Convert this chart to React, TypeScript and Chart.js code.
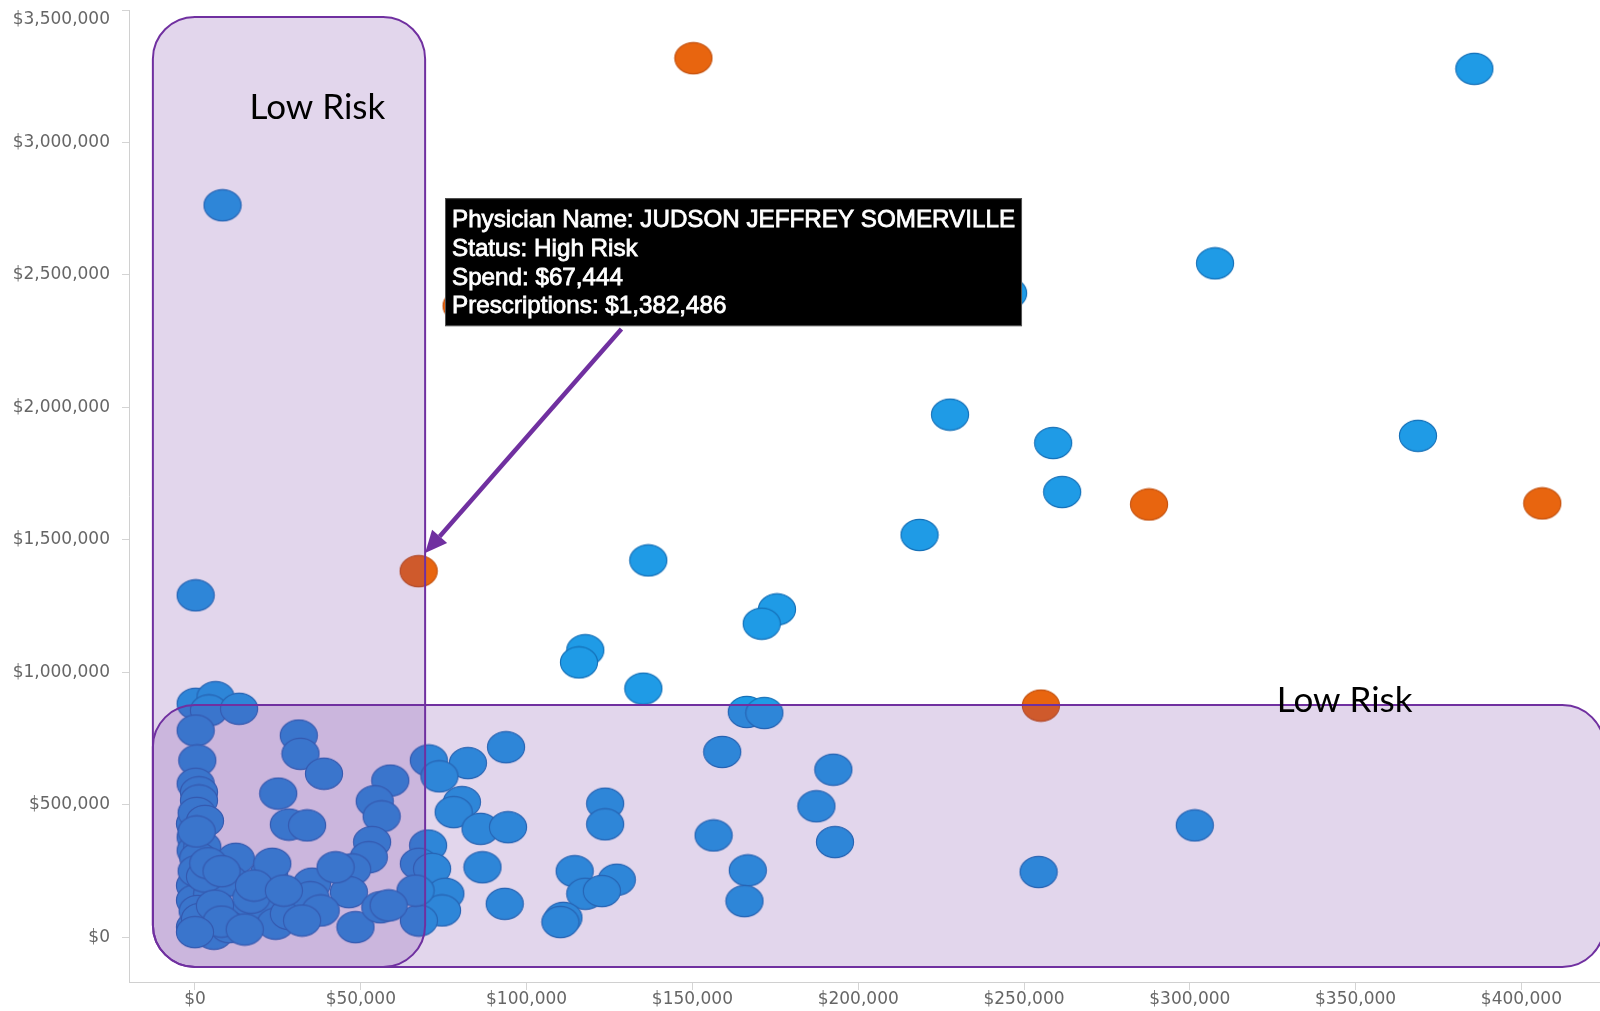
import React, { useEffect, useRef } from "react";
import { Chart, registerables } from "chart.js";

Chart.register(...registerables);

// ---------------- data (dollars) ----------------
// Low-risk physicians spread over the plot
const spreadSpend = [385800, 8300, 307600, 245200, 227700, 258800, 368800, 261500, 218500, 136700, 200, 175500, 170900, 117700, 115800, 135200, 166400, 171700];
const spreadRx = [3278000, 2763000, 2544000, 2431000, 1973000, 1866000, 1893000, 1681000, 1519000, 1423000, 1291000, 1238000, 1184000, 1084000, 1038000, 939000, 851000, 847000];

// Low-risk physicians in the low-prescription band
const bandSpend = [159000, 192500, 187400, 193000, 156400, 166700, 165700, 301500, 254400, 93800, 82300, 70500, 73700, 80500, 78000, 86100, 94400, 123700, 123700, 70300, 67500, 71500, 86700, 114500, 127200, 117700, 122700, 111100, 110200, 93400, 75500, 74500, 67500, 66500];
const bandRx = [700000, 633000, 495000, 360000, 385000, 253000, 137000, 423000, 247000, 718000, 658000, 668000, 608000, 511000, 473000, 410000, 416000, 505000, 427000, 347000, 278000, 259000, 265000, 250000, 218000, 165000, 175000, 74000, 58000, 127000, 165000, 102000, 64000, 177000];

// Low-risk physicians in the low-spend cluster
const clusterSpend = [200, 6200, 4200, 13300, 200, 700, 200, 1200, 1200, 31300, 31800, 38900, 25100, 28300, 33800, 58900, 54200, 56300, 53400, 52400, 47400, 46400, 48400, 55900, 58400, 0, 200, 200, 2200, 12300, 0, 0, 0, 5200, 10200, 12700, 22300, 23300, 20300, 21300, 24300, 28300, 35300, 34800, 37900, 32300, 5700, 10200, 500, 1000, 500, 800, 1500, 3000, 4000, 6000, 8000, 15000, 17000, 8000, 3000, 17800, 26800, 42400, 500, 0];
const clusterRx = [882000, 907000, 857000, 863000, 781000, 668000, 580000, 548000, 517000, 762000, 693000, 618000, 543000, 426000, 423000, 592000, 514000, 457000, 360000, 303000, 257000, 171000, 39000, 114000, 121000, 429000, 378000, 328000, 341000, 297000, 196000, 140000, 39000, 165000, 215000, 77000, 240000, 278000, 140000, 108000, 52000, 89000, 203000, 152000, 102000, 64000, 14000, 39000, 470000, 300000, 250000, 100000, 70000, 230000, 280000, 120000, 60000, 30000, 150000, 250000, 440000, 196000, 177000, 265000, 400000, 20000];

// High-risk physicians
const highRiskSpend = [150300, 67444, 287700, 406300, 255100, 80400];
const highRiskRx = [3318000, 1382486, 1634000, 1638000, 875000, 2383000];

const xTickValues = [0, 50000, 100000, 150000, 200000, 250000, 300000, 350000, 400000];
const yTickValues = [0, 500000, 1000000, 1500000, 2000000, 2500000, 3000000, 3500000];

const highlighted = {
  name: "JUDSON JEFFREY SOMERVILLE",
  status: "High Risk",
  spend: 67444,
  prescriptions: 1382486,
};

const zoneLabel = "Low Risk";

// ---------------- annotation layout (data units) ----------------
const zones = [
  { xMin: -12700, xMax: 69400, yMin: -111000, yMax: 3474000 },
  { xMin: -12700, xMax: 425000, yMin: -111000, yMax: 877000 },
];
const zoneLabelPos = [
  { x: 36900, y: 3090000 },
  { x: 346700, y: 851000 },
];
const tooltipAnchor = { x: 75400, y: 2790000 };
const arrowFrom = { x: 128600, y: 2296000 };
const arrowTo = { x: 69400, y: 1451000 };

const TICK_FAMILY = "'DejaVu Sans', 'Liberation Sans', Arial, sans-serif";
const TICK_SIZE = 17;
const TICK_COLOR = "#666";
const Y_TICK_LEN = 7;
const Y_TICK_PAD = 12;

const fmt = (v: number) => "$" + Math.round(v).toLocaleString("en-US");
const pairs = (xs: number[], ys: number[]) => xs.map((x, i) => ({ x, y: ys[i] }));
const topYTick = yTickValues[yTickValues.length - 1];

function makeDot(fill: string, stroke: string): HTMLCanvasElement {
  const c = document.createElement("canvas");
  c.width = 40;
  c.height = 34;
  const g = c.getContext("2d")!;
  g.beginPath();
  g.ellipse(20, 17, 18.6, 15.6, 0, 0, Math.PI * 2);
  g.fillStyle = fill;
  g.fill();
  g.lineWidth = 1.1;
  g.strokeStyle = stroke;
  g.stroke();
  return c;
}

const overlayPlugin = {
  id: "overlay",
  afterDatasetsDraw(chart: any) {
    const { ctx } = chart;
    const xs = chart.scales.x;
    const ys = chart.scales.y;
    const px = (v: number) => xs.getPixelForValue(v);
    const py = (v: number) => ys.getPixelForValue(v);
    ctx.save();
    zones.forEach((z) => {
      const l = px(z.xMin), r = px(z.xMax), t = py(z.yMax), b = py(z.yMin);
      ctx.beginPath();
      ctx.roundRect(l, t, r - l, b - t, 42);
      ctx.fillStyle = "rgba(112,48,160,0.2)";
      ctx.fill();
      ctx.lineWidth = 2;
      ctx.strokeStyle = "#7030A0";
      ctx.stroke();
    });
    ctx.fillStyle = "#000";
    ctx.font = "35px Lato, 'Open Sans', sans-serif";
    ctx.textAlign = "center";
    ctx.textBaseline = "alphabetic";
    zoneLabelPos.forEach((p) => ctx.fillText(zoneLabel, px(p.x), py(p.y)));
    ctx.restore();
  },
  afterDraw(chart: any) {
    const { ctx } = chart;
    const xs = chart.scales.x;
    const ys = chart.scales.y;
    const px = (v: number) => xs.getPixelForValue(v);
    const py = (v: number) => ys.getPixelForValue(v);
    ctx.save();

    // top y tick label, nudged inside the canvas
    ctx.font = `${TICK_SIZE}px ${TICK_FAMILY}`;
    ctx.fillStyle = TICK_COLOR;
    ctx.textAlign = "right";
    ctx.textBaseline = "middle";
    ctx.fillText(fmt(topYTick), ys.right - Y_TICK_LEN - Y_TICK_PAD, Math.max(py(topYTick), 0) + 10);

    // arrow
    const x1 = px(arrowFrom.x), y1 = py(arrowFrom.y), x2 = px(arrowTo.x), y2 = py(arrowTo.y);
    const ang = Math.atan2(y2 - y1, x2 - x1);
    const headLen = 22, headW = 10;
    const bx = x2 - headLen * Math.cos(ang), by = y2 - headLen * Math.sin(ang);
    ctx.strokeStyle = "#7030A0";
    ctx.fillStyle = "#7030A0";
    ctx.lineWidth = 4.5;
    ctx.beginPath();
    ctx.moveTo(x1, y1);
    ctx.lineTo(bx, by);
    ctx.stroke();
    ctx.beginPath();
    ctx.moveTo(x2, y2);
    ctx.lineTo(bx + headW * Math.sin(ang), by - headW * Math.cos(ang));
    ctx.lineTo(bx - headW * Math.sin(ang), by + headW * Math.cos(ang));
    ctx.closePath();
    ctx.fill();

    // tooltip box
    const lines = [
      `Physician Name: ${highlighted.name}`,
      `Status: ${highlighted.status}`,
      `Spend: ${fmt(highlighted.spend)}`,
      `Prescriptions: ${fmt(highlighted.prescriptions)}`,
    ];
    ctx.font = "24px 'Liberation Sans', Arial, sans-serif";
    const w = Math.max(...lines.map((l) => ctx.measureText(l).width));
    const sx = 563 / w;
    const left = px(tooltipAnchor.x), top = py(tooltipAnchor.y);
    const boxW = 577, boxH = 128;
    ctx.fillStyle = "#000";
    ctx.fillRect(left, top, boxW, boxH);
    ctx.strokeStyle = "#555";
    ctx.lineWidth = 1;
    ctx.strokeRect(left + 0.5, top + 0.5, boxW - 1, boxH - 1);
    ctx.fillStyle = "#fff";
    ctx.strokeStyle = "#fff";
    ctx.lineWidth = 0.8;
    ctx.textAlign = "left";
    ctx.textBaseline = "alphabetic";
    lines.forEach((l, i) => {
      ctx.save();
      ctx.translate(left + 7, top + 29 + i * 28.7);
      ctx.scale(sx, 1);
      ctx.fillText(l, 0, 0);
      ctx.strokeText(l, 0, 0);
      ctx.restore();
    });
    ctx.restore();
  },
};

export default function App() {
  const ref = useRef<HTMLCanvasElement | null>(null);

  useEffect(() => {
    if (!ref.current) return;
    const blueDot = makeDot("#1f9be6", "#1570b8");
    const orangeDot = makeDot("#e8650f", "#c45210");
    const tickFont = { family: TICK_FAMILY, size: TICK_SIZE, lineHeight: 1 };

    const blueStyle = { pointStyle: blueDot, pointRadius: 17, pointHoverRadius: 17 };
    const chart = new Chart(ref.current, {
      type: "scatter",
      data: {
        datasets: [
          { label: "Low Risk", data: pairs(clusterSpend, clusterRx), ...blueStyle },
          { label: "Low Risk band", data: pairs(bandSpend, bandRx), ...blueStyle },
          { label: "Low Risk spread", data: pairs(spreadSpend, spreadRx), ...blueStyle },
          { label: "High Risk", data: pairs(highRiskSpend, highRiskRx), pointStyle: orangeDot, pointRadius: 17, pointHoverRadius: 17 },
        ] as any,
      },
      options: {
        animation: false,
        responsive: false,
        devicePixelRatio: 1,
        events: [],
        layout: { autoPadding: false, padding: { top: 10, left: 0, right: 0, bottom: 0 } },
        plugins: { legend: { display: false }, tooltip: { enabled: false }, title: { display: false } },
        scales: {
          x: {
            type: "linear",
            min: -19900,
            max: 423700,
            afterBuildTicks: (s: any) => { s.ticks = xTickValues.map((v) => ({ value: v })); },
            afterFit: (s: any) => { s.height = 29; s.paddingLeft = 0; s.paddingRight = 0; },
            ticks: { callback: (v: any) => fmt(Number(v)), color: TICK_COLOR, font: tickFont, padding: 1, maxRotation: 0, autoSkip: false },
            grid: { drawOnChartArea: false, drawTicks: true, tickLength: 8, color: "#d4d4d4" },
            border: { display: true, color: "#d0d0d0", width: 1 },
          },
          y: {
            type: "linear",
            min: -168000,
            max: 3500000,
            afterBuildTicks: (s: any) => { s.ticks = yTickValues.map((v) => ({ value: v })); },
            afterFit: (s: any) => { s.width = 129; s.paddingTop = 0; s.paddingBottom = 0; },
            ticks: {
              callback: (v: any) => (Number(v) === topYTick ? "" : fmt(Number(v))),
              color: TICK_COLOR,
              font: tickFont,
              padding: Y_TICK_PAD,
              autoSkip: false,
            },
            grid: { drawOnChartArea: false, drawTicks: true, tickLength: Y_TICK_LEN, color: "#d4d4d4" },
            border: { display: true, color: "#d0d0d0", width: 1 },
          },
        },
      } as any,
      plugins: [overlayPlugin],
    });
    return () => chart.destroy();
  }, []);

  return (
    <div style={{ position: "fixed", left: 0, top: 0, width: 1600, height: 1011, background: "#fff", overflow: "hidden" }}>
      <canvas ref={ref} width={1600} height={1011} style={{ display: "block", width: 1600, height: 1011 }} />
    </div>
  );
}
